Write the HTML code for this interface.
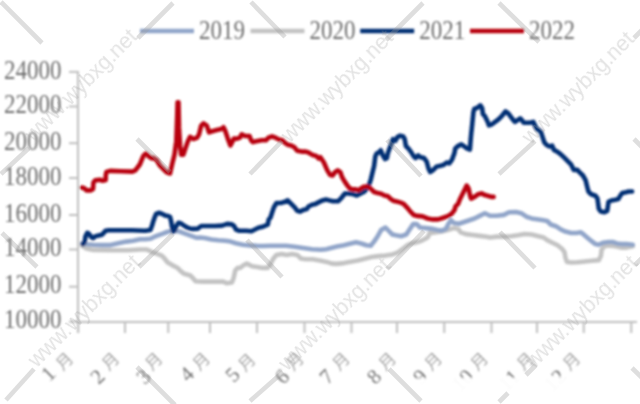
<!DOCTYPE html><html><head><meta charset="utf-8"><style>
html,body{margin:0;padding:0;background:#fff;overflow:hidden;}
svg{display:block;}
</style></head><body>
<svg width="640" height="404" viewBox="0 0 640 404">
<defs><filter id="bl" x="-5%" y="-5%" width="110%" height="110%"><feGaussianBlur stdDeviation="0.8"/></filter></defs>
<rect width="640" height="404" fill="#fff"/>
<g filter="url(#bl)">
<g stroke="#bfbfbf" stroke-width="2" fill="none">
<line x1="78" y1="71" x2="78" y2="333"/>
<line x1="77" y1="322" x2="637" y2="322"/>
<line x1="69" y1="71.9" x2="78" y2="71.9"/>
<line x1="69" y1="106.5" x2="78" y2="106.5"/>
<line x1="69" y1="143.2" x2="78" y2="143.2"/>
<line x1="69" y1="178.0" x2="78" y2="178.0"/>
<line x1="69" y1="215.0" x2="78" y2="215.0"/>
<line x1="69" y1="249.5" x2="78" y2="249.5"/>
<line x1="69" y1="286.7" x2="78" y2="286.7"/>
<line x1="69" y1="321.8" x2="78" y2="321.8"/>
<line x1="78.25" y1="322" x2="78.25" y2="333"/>
<line x1="125" y1="322" x2="125" y2="333"/>
<line x1="168.25" y1="322" x2="168.25" y2="333"/>
<line x1="210" y1="322" x2="210" y2="333"/>
<line x1="257" y1="322" x2="257" y2="333"/>
<line x1="304.5" y1="322" x2="304.5" y2="333"/>
<line x1="351.5" y1="322" x2="351.5" y2="333"/>
<line x1="397" y1="322" x2="397" y2="333"/>
<line x1="444.25" y1="322" x2="444.25" y2="333"/>
<line x1="491.5" y1="322" x2="491.5" y2="333"/>
<line x1="537" y1="322" x2="537" y2="333"/>
<line x1="583.75" y1="322" x2="583.75" y2="333"/>
<line x1="631.25" y1="322" x2="631.25" y2="333"/>
</g>
<g font-family='"Liberation Serif", "Noto Serif CJK SC", serif' font-size="23" fill="#6e6e6e" text-anchor="end">
<text transform="translate(61.5,78.5) scale(1,1.16)">24000</text>
<text transform="translate(61.5,113.1) scale(1,1.16)">22000</text>
<text transform="translate(61.5,149.79999999999998) scale(1,1.16)">20000</text>
<text transform="translate(61.5,184.6) scale(1,1.16)">18000</text>
<text transform="translate(61.5,221.6) scale(1,1.16)">16000</text>
<text transform="translate(61.5,256.1) scale(1,1.16)">14000</text>
<text transform="translate(61.5,293.3) scale(1,1.16)">12000</text>
<text transform="translate(61.5,328.40000000000003) scale(1,1.16)">10000</text>
</g>
<line x1="140" y1="31" x2="194" y2="31" stroke="#91a5c9" stroke-width="4.4" stroke-linecap="butt"/>
<text transform="translate(199,38.8) scale(1,1.16)" font-family='"Liberation Serif", "Noto Serif CJK SC", serif' font-size="23" fill="#6e6e6e">2019</text>
<line x1="250.5" y1="31" x2="304.5" y2="31" stroke="#c3c3c3" stroke-width="4.4" stroke-linecap="butt"/>
<text transform="translate(309.5,38.8) scale(1,1.16)" font-family='"Liberation Serif", "Noto Serif CJK SC", serif' font-size="23" fill="#6e6e6e">2020</text>
<line x1="360.2" y1="31" x2="414.2" y2="31" stroke="#002d73" stroke-width="4.4" stroke-linecap="butt"/>
<text transform="translate(419.2,38.8) scale(1,1.16)" font-family='"Liberation Serif", "Noto Serif CJK SC", serif' font-size="23" fill="#6e6e6e">2021</text>
<line x1="470" y1="31" x2="524" y2="31" stroke="#b8000e" stroke-width="4.4" stroke-linecap="butt"/>
<text transform="translate(529,38.8) scale(1,1.16)" font-family='"Liberation Serif", "Noto Serif CJK SC", serif' font-size="23" fill="#6e6e6e">2022</text>
<polyline points="82.1,245.9 86.4,248.5 93.3,249.9 110.7,250.3 128,250.3 140,249.5 146.9,249.5 152.1,252.1 157.3,253.9 161.7,255.6 164.3,258.2 167.7,262.5 172.1,265.1 177.3,267.7 180.7,271.2 184.2,273.8 190.3,275.5 192.9,278.1 195.5,281.2 202.4,281.6 212.8,281.6 223.2,281.6 226.7,283.3 231.9,282.5 233.6,278.1 235.3,270.3 237.9,267.7 240,268 243.5,265.3 246.9,263.6 252.1,266.2 257.3,267.1 262.5,267.9 267.7,267.9 270.3,264.5 272.9,259.3 276.4,254.9 281.6,254.1 286.8,254.9 292,254.1 297.2,254.9 300.7,258.4 305.9,259.3 312.8,259.3 319.7,260.6 326.7,261.9 331.9,263.6 336.9,263.9 343.9,263.1 350.8,261.8 357.7,260.5 364.7,258.7 371.6,257 378.5,256.1 385.5,255.6 392.4,254.4 397.6,252.7 401.1,250.1 404.5,247.5 408,244.9 411.5,243.5 416.7,242.3 421.9,240.5 425.3,238.8 427.9,237.1 429.5,233.3 434.7,232.4 441.6,231.5 448.5,229.8 453.7,228.1 458.1,228.9 460.7,232.4 465.9,234.1 472.8,235 479.7,235.9 486.7,236.7 490,237.5 496.9,236.6 503.9,236.6 510.8,236.2 517.7,235.2 524.7,234 531.6,234.5 538.5,236.2 543.7,237.5 547.2,240.1 552.4,242.7 557.6,245.3 561.9,248.7 564.5,252.2 565.4,257.4 567,262 571.5,262.5 578,262.2 585,261.5 591.9,260.8 598.8,260.1 600.9,255.9 601.6,249.7 604.4,246.2 608.5,245.5 615.5,246.2 621,247.6 626.6,247.6 632.8,246.2" fill="none" stroke="#c3c3c3" stroke-width="4.6" stroke-linejoin="round" stroke-linecap="round"/>
<polyline points="82.1,243.3 86.4,244.2 93.3,244.7 102,245.1 110.7,245.1 119.3,243 126.3,241.6 133.2,240.7 140,239.3 145.2,239.3 150.4,238.8 154.6,236.7 158.7,235.1 162.9,233.6 167,232 171.2,231 175.3,231 179.5,231.5 183.7,233.1 187.8,234.6 192,236.2 196.1,237.7 200,237.5 204.7,238 211.6,239.5 218.5,240.2 225.5,240.7 230.7,241.6 235.9,243.3 242.8,244.7 249.7,245.4 256.7,245.9 263.6,246 270,245.8 277.3,245.8 286,245.8 294.7,246.8 303.3,248.1 312,249.3 320.7,249.8 326,249.2 330,248.3 336.9,246.6 343.9,245.2 350.8,243.5 356,242.3 361.2,243.5 366.4,245.2 370.7,245.7 374.2,241.4 377.7,236.2 381.1,230.1 385.5,227.5 388.9,231 392.4,234.5 395.9,235.3 401.1,236.2 406.3,234.5 409.7,229.3 413.2,224.1 416.7,224.1 420.1,227.5 426,228.1 432.9,228.9 436.4,229.8 441.6,230.7 445.9,228.9 448.5,223.7 451.1,220.3 453.7,222.9 458.9,223.7 464.1,222 469.3,220.3 474.5,218.5 479.7,215.9 484.9,213.3 490,215.8 496.9,215.8 503.9,214.9 509.1,212.3 516,212 521.2,213.2 526.4,216.7 531.6,218.4 536.8,219.3 542,220.1 547.2,221 550.7,224.5 555.9,226.2 561.1,229.7 565.5,231.6 571.1,233 576.6,233 580.8,232.3 583.6,234.4 587.7,237.9 591.9,241.4 595.4,244.1 598.8,244.8 603,242.7 608.5,242 612.7,242 616.9,243.4 621,244.1 626.6,244.1 632.8,244.8" fill="none" stroke="#91a5c9" stroke-width="4.6" stroke-linejoin="round" stroke-linecap="round"/>
<polyline points="82.9,244.2 84.7,241.6 85.5,236.4 87.3,232.9 89,233.8 91.6,237.3 93.3,238.1 95.1,236.4 98.5,235.5 102,234.7 103.7,232.9 105.5,230.8 108.9,230.3 119.3,230.3 131.5,230.3 145.3,230.8 150.4,230 152,225.8 153,222.2 154.6,217.5 156.1,213.8 158.7,212.8 161.8,213.8 165,215.4 168.1,215.9 170.1,217 171.2,221.6 172.2,227.9 173.3,231.5 174.8,230 176.4,225.8 178.5,222.7 180.5,223.2 183.7,225.3 186.8,227.3 189.9,228.4 193,228.9 197.7,228.6 201.2,226 208.1,226 215.1,226 222,225.6 227.2,223.9 231.5,224.3 234.1,226 235.9,229.5 239.3,230.8 246.3,230.8 251.5,231.2 254.9,229.5 258.4,227.7 263.5,226.4 267.8,224.7 268.7,219.5 270.4,217.7 272.1,212.5 273.9,207.3 276.5,203 280.8,203 284.3,202.1 287.7,200.4 291.2,203.9 294.7,207.3 297.3,210.8 299.9,211.7 303.3,209.9 306.8,209.1 308.5,206.5 312,204.7 315.5,203.9 318.9,202.1 322.4,200.4 325.9,199.5 329.3,200.4 332.8,201.3 338,201.3 341.5,197.8 344.9,193.5 348.4,193.5 353.6,194.3 356.8,195.5 360.3,193.7 363.7,192 366.3,189.4 368.9,185.1 370.7,179.9 372.4,172.9 374.1,166 375.3,156.4 376.5,153.8 379.1,152.1 380.8,150.3 382.5,154.7 385.1,159 386.9,158.1 387.7,153.8 389.5,148.6 391.2,144.3 392.9,139.1 395.5,140.8 397.3,137.3 399.9,135.6 403.3,136.5 404.7,139.1 405.9,146 408.5,148.6 411.1,152.1 413.7,156.4 415.5,158.1 418.1,155.5 420.7,157.3 424.1,158.1 426.7,161.6 428.5,168.5 430.2,172 432.8,170.3 436.3,166.8 439.7,165.9 443.2,165.1 446.7,162.5 449.3,163.3 451.9,159.9 454.5,152.9 455.2,148.7 457.8,146.1 461.3,144.4 463.9,146.1 467.3,148.7 469.9,149.6 470.5,141.8 471.1,134.9 472.2,124.5 473.4,112.3 474.3,108.9 476.9,108 480.3,105.4 482.1,108 482.9,114.1 484.7,115.8 487.3,121 489,125.3 491.6,124.5 495.1,121.9 498.5,119.3 502,115.8 505.5,111.5 508.1,113.2 510.7,116.7 513.3,120.1 515,121.9 517.6,120.1 520.2,118.4 521.9,120.1 523.7,122.7 529.7,122.7 533.2,121.9 534.9,125.3 536.7,128.8 539.3,130.5 541,132.3 542.7,137.5 544.5,142.7 547.1,145.3 549.5,146.5 552.1,145.6 553.9,149.9 557.3,151.7 560.8,154.3 564.3,157.7 567.7,161.2 571.2,164.7 573.8,169.9 577.3,169.9 579.4,172.1 582.9,175.5 585.7,180.4 587,186 588.4,191.5 591.2,194.3 595.4,195.7 597.4,198.4 598.1,203.3 598.8,208.8 600.9,211.6 604.4,212.3 607.2,210.9 607.9,206.1 608.5,201.9 611.3,200.5 615.5,199.8 618.3,199.1 620.3,195.7 622.4,192.9 625.9,192.2 628.7,191.5 632.1,191.5" fill="none" stroke="#002d73" stroke-width="4.6" stroke-linejoin="round" stroke-linecap="round"/>
<polyline points="81.9,187.5 84.2,188.2 86.4,190.4 90.8,190.4 93,189 93.5,182.3 95.3,180.4 99.7,179.8 102.7,180.8 105.7,180 105.7,175.6 106.4,171.9 110.1,170.9 120.5,171.2 132.4,171.6 135.3,170.4 139.8,164.5 143.5,155.6 145.7,153.6 148.7,156.3 151.7,158.5 153.3,157.9 156.7,160.2 160,165.7 163.4,169.1 166.7,172.4 170,173.5 172.3,163.5 174.5,154.6 176.3,141.2 177.2,116.7 177.6,102.2 178.5,102.2 179,127.9 180.1,145.7 181.2,154.6 183.4,154.6 185.6,147.9 187.9,141.2 190.1,136.8 193.4,139 196.8,137.9 199,134.5 201.2,125.6 203.5,123.4 206.8,125.6 209,132.3 212.4,131.2 216.8,130.1 221.3,129 223.5,127.3 225.2,130.8 227.8,138.6 230.4,145.5 232.1,142.1 233.9,138.6 237.3,138.6 239.9,137.7 241.7,134.3 245.1,136 249.5,136 251.2,140.3 252.9,142.1 256.4,141.2 261.6,140.3 265.9,140.3 268.5,137.7 272,136.3 275.5,137.7 278.9,139.5 282.4,140.3 285,142.9 287.6,144.7 291.1,145.5 294.5,147.3 297.1,150.7 301.5,151.6 305.8,151.6 308.4,152.5 312.7,155.1 316.2,155.9 318.8,158.5 320.4,157.3 323.9,162.5 327.3,170.3 329.9,174.7 332.5,175.5 335.1,172.1 337.7,170.3 340.3,172.1 342.1,177.3 344.7,181.6 347.3,185.4 349.9,188.5 352.5,189.4 355.9,189.4 358.5,190.3 361.1,188.5 363.7,186.8 366.3,186.4 368.9,187.1 371.5,189.4 374.1,192 377.6,192.9 381.1,193.7 384.5,195.5 388,196.3 390.6,198.9 393.2,200.7 396.7,201.5 400.1,202.4 403.6,203.8 406.9,207.3 410.4,211.6 413.9,215.1 417.3,215.9 422.5,216.4 427.7,218.5 432.9,219.4 438.1,219.4 443.3,217.7 448.5,215.9 452,213.3 454.6,209.9 455.5,206.4 458.1,203.8 459.8,199.5 462.4,194.3 465,189.1 466.7,185.6 468.5,188.2 470.2,196 471.1,198.6 474.5,196.9 478,194.3 481.5,193.4 484.9,195.1 488.4,196 491.9,196.9 493.6,196.9" fill="none" stroke="#b8000e" stroke-width="4.6" stroke-linejoin="round" stroke-linecap="round"/>
<g fill="#747474"><text transform="translate(70.76,360.96) rotate(-45)" x="-19.5" text-anchor="end" font-family='"Liberation Serif", "Noto Serif CJK SC", serif' font-size="21">1</text><text transform="translate(73.86,364.16) rotate(-45)" x="-13" y="-2.8" font-family='"Noto Sans CJK SC", sans-serif' font-weight="300" font-size="16.5">月</text></g>
<g fill="#747474"><text transform="translate(119.96,364.16) rotate(-45)" x="-19.5" text-anchor="end" font-family='"Liberation Serif", "Noto Serif CJK SC", serif' font-size="21">2</text><text transform="translate(119.96,364.16) rotate(-45)" x="-13" y="-2.8" font-family='"Noto Sans CJK SC", sans-serif' font-weight="300" font-size="16.5">月</text></g>
<g fill="#747474"><text transform="translate(166.06,364.16) rotate(-45)" x="-19.5" text-anchor="end" font-family='"Liberation Serif", "Noto Serif CJK SC", serif' font-size="21">3</text><text transform="translate(163.06,364.16) rotate(-45)" x="-13" y="-2.8" font-family='"Noto Sans CJK SC", sans-serif' font-weight="300" font-size="16.5">月</text></g>
<g fill="#747474"><text transform="translate(209.16,361.66) rotate(-45)" x="-19.5" text-anchor="end" font-family='"Liberation Serif", "Noto Serif CJK SC", serif' font-size="21">4</text><text transform="translate(210.66,364.16) rotate(-45)" x="-13" y="-2.8" font-family='"Noto Sans CJK SC", sans-serif' font-weight="300" font-size="16.5">月</text></g>
<g fill="#747474"><text transform="translate(254.86,361.96) rotate(-45)" x="-19.5" text-anchor="end" font-family='"Liberation Serif", "Noto Serif CJK SC", serif' font-size="21">5</text><text transform="translate(256.26,365.16) rotate(-45)" x="-13" y="-2.8" font-family='"Noto Sans CJK SC", sans-serif' font-weight="300" font-size="16.5">月</text></g>
<g fill="#747474"><text transform="translate(304.36,364.16) rotate(-45)" x="-19.5" text-anchor="end" font-family='"Liberation Serif", "Noto Serif CJK SC", serif' font-size="21">6</text><text transform="translate(304.36,364.16) rotate(-45)" x="-13" y="-2.8" font-family='"Noto Sans CJK SC", sans-serif' font-weight="300" font-size="16.5">月</text></g>
<g fill="#747474"><text transform="translate(348.96,364.16) rotate(-45)" x="-19.5" text-anchor="end" font-family='"Liberation Serif", "Noto Serif CJK SC", serif' font-size="21">7</text><text transform="translate(350.46,364.16) rotate(-45)" x="-13" y="-2.8" font-family='"Noto Sans CJK SC", sans-serif' font-weight="300" font-size="16.5">月</text></g>
<g fill="#747474"><text transform="translate(396.56,364.16) rotate(-45)" x="-19.5" text-anchor="end" font-family='"Liberation Serif", "Noto Serif CJK SC", serif' font-size="21">8</text><text transform="translate(396.56,364.16) rotate(-45)" x="-13" y="-2.8" font-family='"Noto Sans CJK SC", sans-serif' font-weight="300" font-size="16.5">月</text></g>
<g fill="#747474"><text transform="translate(442.66,364.16) rotate(-45)" x="-19.5" text-anchor="end" font-family='"Liberation Serif", "Noto Serif CJK SC", serif' font-size="21">9</text><text transform="translate(442.66,364.16) rotate(-45)" x="-13" y="-2.8" font-family='"Noto Sans CJK SC", sans-serif' font-weight="300" font-size="16.5">月</text></g>
<g fill="#747474"><text transform="translate(488.76,364.16) rotate(-45)" x="-19.5" text-anchor="end" font-family='"Liberation Serif", "Noto Serif CJK SC", serif' font-size="21">10</text><text transform="translate(488.76,364.16) rotate(-45)" x="-13" y="-2.8" font-family='"Noto Sans CJK SC", sans-serif' font-weight="300" font-size="16.5">月</text></g>
<g fill="#747474"><text transform="translate(534.86,364.16) rotate(-45)" x="-19.5" text-anchor="end" font-family='"Liberation Serif", "Noto Serif CJK SC", serif' font-size="21">11</text><text transform="translate(534.86,364.16) rotate(-45)" x="-13" y="-2.8" font-family='"Noto Sans CJK SC", sans-serif' font-weight="300" font-size="16.5">月</text></g>
<g fill="#747474"><text transform="translate(580.96,364.16) rotate(-45)" x="-19.5" text-anchor="end" font-family='"Liberation Serif", "Noto Serif CJK SC", serif' font-size="21">12</text><text transform="translate(580.96,364.16) rotate(-45)" x="-13" y="-2.8" font-family='"Noto Sans CJK SC", sans-serif' font-weight="300" font-size="16.5">月</text></g>
<polygon points="404,378.5 640,377 640,404 404,404" fill="#fff" fill-opacity="0.97"/>
</g>
<g opacity="0.33" stroke="#9b9b9b" stroke-width="4.6" stroke-linecap="butt">
<line x1="1" y1="2" x2="42" y2="43"/>
<line x1="251" y1="2" x2="285" y2="37"/>
<line x1="499" y1="3" x2="539" y2="42"/>
<line x1="137" y1="139" x2="170" y2="172"/>
<line x1="387" y1="140" x2="421" y2="176"/>
<line x1="634" y1="139" x2="670" y2="175"/>
<line x1="2" y1="233" x2="37" y2="267"/>
<line x1="247" y1="240" x2="282" y2="277"/>
<line x1="500" y1="232" x2="535" y2="268"/>
<line x1="137" y1="367" x2="175" y2="405"/>
<line x1="389" y1="369" x2="421" y2="401"/>
<line x1="632" y1="368" x2="670" y2="405"/>
<line x1="138" y1="38" x2="173" y2="3"/>
<line x1="386" y1="40" x2="423" y2="3"/>
<line x1="634" y1="38" x2="672" y2="0"/>
<line x1="1" y1="174" x2="29" y2="148"/>
<line x1="250" y1="174" x2="282" y2="141"/>
<line x1="499" y1="174" x2="535" y2="141"/>
<line x1="139" y1="267" x2="173" y2="234"/>
<line x1="387" y1="269" x2="424" y2="231"/>
<line x1="635" y1="265" x2="670" y2="230"/>
<line x1="6" y1="400" x2="34" y2="369"/>
<line x1="250" y1="401" x2="283" y2="372"/>
<line x1="499" y1="402" x2="508" y2="393"/>
<line x1="526" y1="375" x2="536" y2="365"/>
</g>
<g opacity="0.28" fill="#9b9b9b" font-family='"Liberation Sans", sans-serif' font-size="21.5" text-anchor="end">
<text transform="translate(138.5,37.9) rotate(-45)">www.wybxg.net</text>
<text transform="translate(394.5,38.9) rotate(-45)">www.wybxg.net</text>
<text transform="translate(635.5,40.4) rotate(-45)">www.wybxg.net</text>
<text transform="translate(141.5,263.59999999999997) rotate(-45)">www.wybxg.net</text>
<text transform="translate(392,266.9) rotate(-45)">www.wybxg.net</text>
<text transform="translate(639,264.4) rotate(-45)">www.wybxg.net</text>
</g>
</svg></body></html>
